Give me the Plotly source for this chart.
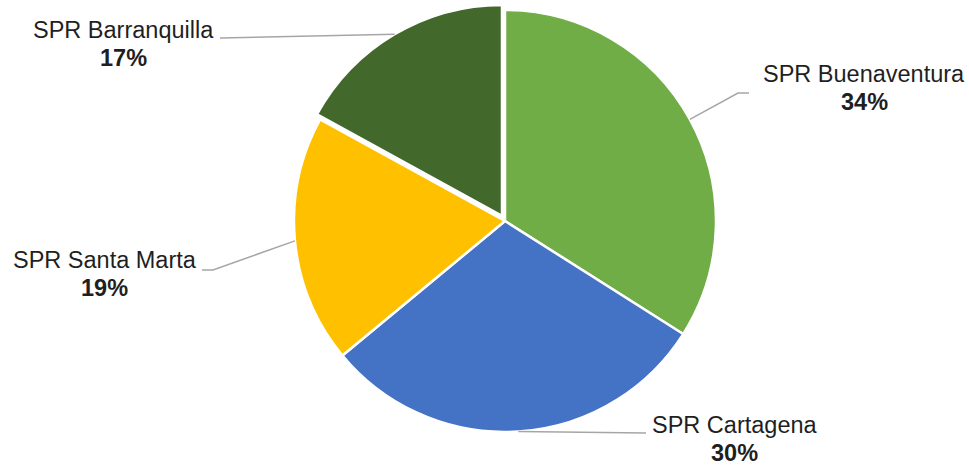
import math
import plotly.graph_objects as go

# ---- data ----
categories = ["SPR Buenaventura", "SPR Cartagena", "SPR Santa Marta", "SPR Barranquilla"]
values = [34, 30, 19, 17]
colors = ["#70AD47", "#4472C4", "#FFC000", "#43682B"]
pulls = [0, 0, 0, 0.028]

# ---- layout constants (pixels) ----
W, H = 969, 465
CX, CY, R = 505, 221, 211
FS = 23.5
TEXT_COLOR = "#1f1f1f"
LINE_COLOR = "#A6A6A6"
# label centre (x, y of first line, y of second line)
label_pos = [(864, 73.5, 102), (734.5, 424.5, 453), (104.5, 260, 288), (123.5, 30, 58)]
# leader line extra points after the slice edge point
leader_pts = [[(738, 93), (749, 93)],
              [(646, 433)],
              [(213, 270), (202, 270)],
              [(220, 38)]]

maxpull = max(pulls)
hb = R * (1 + maxpull)
dom_x = [(CX - hb) / W, (CX + hb) / W]
dom_y = [1 - (CY + hb) / H, 1 - (CY - hb) / H]

fig = go.Figure(go.Pie(
    labels=categories, values=values, sort=False, direction="clockwise",
    rotation=0, pull=pulls, textinfo="none", hoverinfo="skip",
    marker=dict(colors=colors, line=dict(color="white", width=2.5)),
    domain=dict(x=dom_x, y=dom_y), showlegend=False,
))

def px(x):
    return x / W

def py(y):
    return 1 - y / H

total = sum(values)
cum = 0
shapes = []
annotations = []
for i, (cat, v) in enumerate(zip(categories, values)):
    frac_mid = (cum + v / 2) / total
    cum += v
    ang = 2 * math.pi * frac_mid
    dx, dy = math.sin(ang), -math.cos(ang)
    rr = R * (1 + pulls[i])
    sx, sy = CX + dx * rr, CY + dy * rr
    pts = [(sx, sy)] + leader_pts[i]
    path = "M " + " L ".join(f"{px(x):.5f},{py(y):.5f}" for x, y in pts)
    shapes.append(dict(type="path", xref="paper", yref="paper", path=path,
                       line=dict(color=LINE_COLOR, width=1.5)))
    lx, ly1, ly2 = label_pos[i]
    pct = f"{round(v / total * 100)}%"
    annotations.append(dict(x=px(lx), y=py(ly1), xref="paper", yref="paper",
                            text=cat, showarrow=False, xanchor="center", yanchor="middle",
                            font=dict(family="Liberation Sans, Arial", size=FS, color=TEXT_COLOR)))
    annotations.append(dict(x=px(lx), y=py(ly2), xref="paper", yref="paper",
                            text=f"<b>{pct}</b>", showarrow=False, xanchor="center", yanchor="middle",
                            font=dict(family="Liberation Sans, Arial", size=FS, color=TEXT_COLOR)))

fig.update_layout(
    width=W, height=H, margin=dict(l=0, r=0, t=0, b=0),
    paper_bgcolor="white", plot_bgcolor="white",
    shapes=shapes, annotations=annotations,
)

fig.write_html("out.html", config={"displayModeBar": False},
               post_script="document.body.style.margin='0';document.body.style.overflow='hidden';")
